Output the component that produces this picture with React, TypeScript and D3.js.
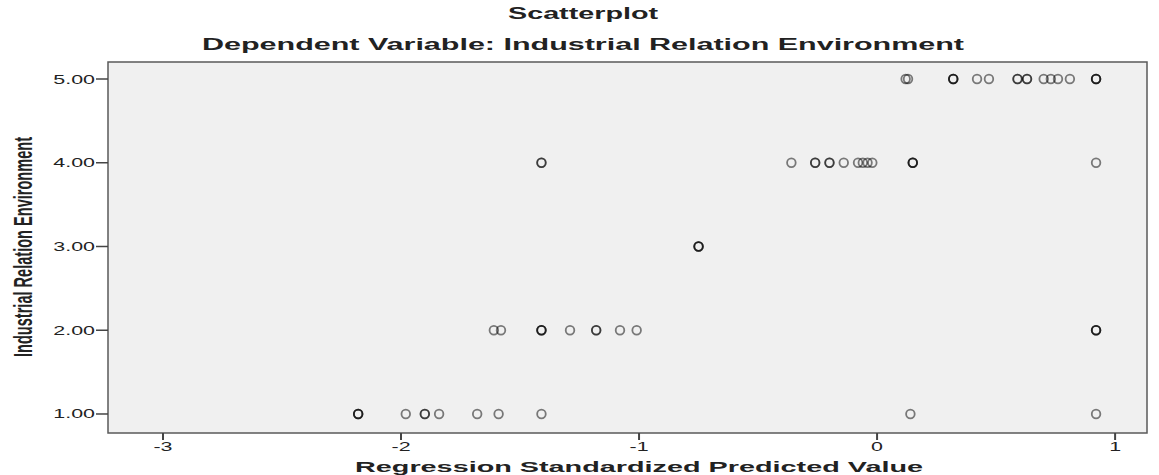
import React, { useEffect, useRef } from "react";
import * as d3 from "d3";

// predicted values (standardized) per observed level; repeats = overlapping cases
const yLevels = [1, 2, 3, 4, 5];
const predAt1 = [-2.18, -2.18, -2.18, -1.98, -1.9, -1.9, -1.84, -1.68, -1.59, -1.41, 0.14, 0.92];
const predAt2 = [-1.61, -1.58, -1.41, -1.41, -1.41, -1.29, -1.18, -1.18, -1.08, -1.01, 0.92, 0.92, 0.92];
const predAt3 = [-0.75, -0.75, -0.75];
const predAt4 = [-1.41, -1.41, -0.36, -0.26, -0.26, -0.2, -0.2, -0.14, -0.08, -0.06, -0.04, -0.02, 0.15, 0.15, 0.15, 0.92];
const predAt5 = [0.12, 0.13, 0.32, 0.32, 0.32, 0.42, 0.47, 0.59, 0.59, 0.63, 0.63, 0.7, 0.73, 0.76, 0.81, 0.92, 0.92, 0.92];
const xTicks = [-3, -2, -1, 0, 1];
const yTicks = [1, 2, 3, 4, 5];

const title = "Scatterplot";
const subtitle = "Dependent Variable: Industrial Relation Environment";
const xTitle = "Regression Standardized Predicted Value";
const yTitle = "Industrial Relation Environment";

const W = 1159;
const H = 475;
const SX = 1.65; // the source picture is stretched horizontally
const FONT = "'Liberation Sans', Arial, sans-serif";

const Scatter: React.FC = () => {
  const svgRef = useRef<SVGSVGElement>(null);

  useEffect(() => {
    if (!svgRef.current) return;
    const svg = d3.select(svgRef.current);
    svg.selectAll("*").remove();

    const plot = { left: 108, right: 1147, top: 62, bottom: 433 };

    const x = d3.scaleLinear().domain([-3.231, 1.134]).range([plot.left, plot.right]);
    const y = d3.scaleLinear().domain([0.773, 5.203]).range([plot.bottom, plot.top]);

    const points = [predAt1, predAt2, predAt3, predAt4, predAt5].flatMap((arr, i) =>
      arr.map((v) => ({ x: v, y: yLevels[i] }))
    );

    // stretched text helper
    const stext = (
      px: number,
      py: number,
      str: string,
      opts: { size: number; weight?: string; anchor?: string; len?: number; family?: string; rotate?: boolean; fill?: string }
    ) => {
      const t = svg
        .append("text")
        .attr(
          "transform",
          `translate(${px},${py}) scale(${SX},1)${opts.rotate ? " rotate(-90)" : ""}`
        )
        .attr("text-anchor", opts.anchor || "middle")
        .style("font-family", opts.family || FONT)
        .style("font-size", `${opts.size}px`)
        .style("font-weight", opts.weight || "normal")
        .attr("fill", opts.fill || "#222")
        .text(str);
      if (opts.len) t.attr("textLength", opts.len).attr("lengthAdjust", "spacingAndGlyphs");
      return t;
    };

    svg.append("rect").attr("width", W).attr("height", H).attr("fill", "#ffffff");

    // plot background + frame
    svg
      .append("rect")
      .attr("x", plot.left)
      .attr("y", plot.top)
      .attr("width", plot.right - plot.left)
      .attr("height", plot.bottom - plot.top)
      .attr("fill", "#f0f0f0")
      .attr("stroke", "#5a5a5a")
      .attr("stroke-width", 1.5);

    // y axis ticks
    yTicks.forEach((t) => {
      svg
        .append("line")
        .attr("x1", plot.left - 12)
        .attr("x2", plot.left)
        .attr("y1", y(t))
        .attr("y2", y(t))
        .attr("stroke", "#444")
        .attr("stroke-width", 1.5);
      stext(plot.left - 13, y(t) + 4.5, d3.format(".2f")(t), { size: 13, anchor: "end" });
    });

    // x axis ticks
    xTicks.forEach((t) => {
      svg
        .append("line")
        .attr("x1", x(t))
        .attr("x2", x(t))
        .attr("y1", plot.bottom)
        .attr("y2", plot.bottom + 7)
        .attr("stroke", "#444")
        .attr("stroke-width", 2);
      stext(x(t), plot.bottom + 18, String(t).replace("-", "-"), { size: 13 });
    });

    // points
    svg
      .append("g")
      .selectAll("circle")
      .data(points)
      .enter()
      .append("circle")
      .attr("cx", (d) => x(d.x))
      .attr("cy", (d) => y(d.y))
      .attr("r", 4.3)
      .attr("fill", "none")
      .attr("stroke", "#000")
      .attr("stroke-opacity", 0.5)
      .attr("stroke-width", 1.8);

    // titles
    stext(583, 19, title, { size: 16, weight: "bold", len: 150 / SX });
    stext(583, 50, subtitle, { size: 16, weight: "bold", len: 762 / SX });
    stext(639, 472, xTitle, { size: 15, weight: "bold", len: 568 / SX });
    stext(32, 247, yTitle, {
      size: 16,
      weight: "bold",
      len: 220,
      rotate: true,
      family: "'Liberation Sans Narrow', 'Arial Narrow', 'Liberation Sans', sans-serif",
    });
  }, []);

  return (
    <svg
      ref={svgRef}
      width={W}
      height={H}
      style={{ position: "absolute", left: 0, top: 0, display: "block" }}
    ></svg>
  );
};

export default function App() {
  return <Scatter />;
}
